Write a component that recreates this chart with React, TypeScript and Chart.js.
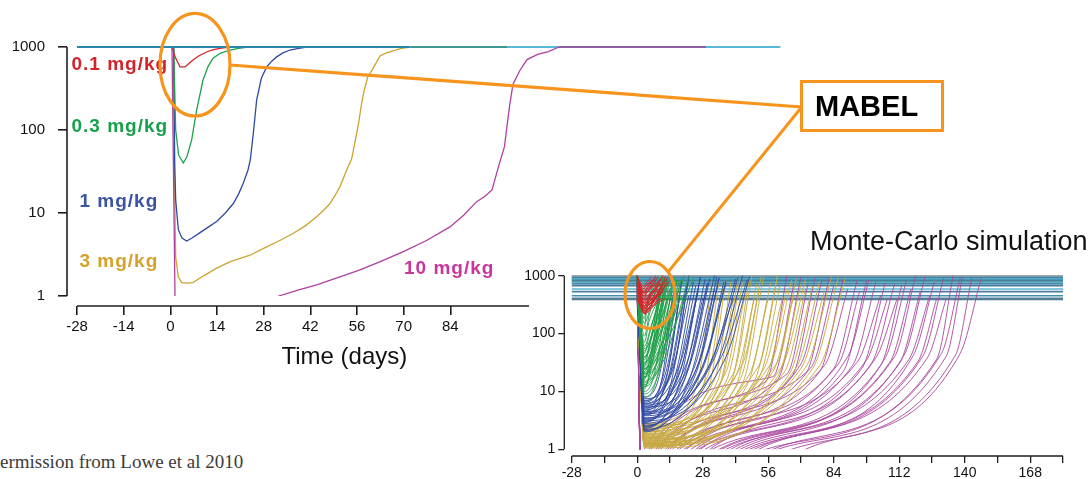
import { useEffect, useRef } from 'react';
import { Chart, registerables } from 'chart.js';

Chart.register(...registerables);

// ---------------- Main chart (Lowe et al 2010) ----------------
const mainXTicks = [-28, -14, 0, 14, 28, 42, 56, 70, 84];
const mainYTicks = [1, 10, 100, 1000];
const doseLabels = ['0.1 mg/kg', '0.3 mg/kg', '1 mg/kg', '3 mg/kg', '10 mg/kg'];

const dose01Days = [-28, 0.4, 1.5, 2.9, 4.4, 5.5, 6.8, 8.5, 11, 13, 14.9, 16.5, 17.9];
const dose01Vals = [1000, 1000, 750, 575, 575, 630, 697, 780, 877, 930, 964, 985, 1000];

const dose03Days = [-28, 1.0, 1.6, 2.5, 3.9, 5, 6.4, 7.9, 9.8, 11.3, 12.8, 15, 17.9, 20.5, 23.3];
const dose03Vals = [1000, 1000, 100, 50, 40, 48, 76, 174, 400, 580, 735, 840, 920, 965, 1000];

const dose1Days = [-28, 1.0, 1.3, 1.6, 2.4, 3.5, 4.9, 6.5, 8.9, 11.5, 13.9, 16.5, 18.9, 20.5, 21.9, 23.3, 24, 25, 25.9, 27.3, 28.9, 30.5, 31.9, 33.8, 35.9, 38.5, 40.9];
const dose1Vals = [1000, 1000, 40, 14.5, 6.3, 5.0, 4.6, 5.0, 5.8, 6.8, 7.9, 10, 13, 17, 23, 33, 44, 100, 230, 420, 575, 680, 760, 850, 920, 965, 1000];

const dose3Days = [-28, 1.0, 1.3, 1.6, 2.4, 3.4, 5, 6.8, 10, 13.9, 18, 23.9, 28.9, 33, 36.9, 40.5, 43.9, 46, 47.9, 49.5, 50.9, 52.9, 54.4, 55.5, 56.5, 57.3, 58.1, 59.2, 60.8, 62.9, 64.8, 66.8, 69, 71.9];
const dose3Vals = [1000, 1000, 20, 2.95, 1.7, 1.45, 1.43, 1.45, 1.75, 2.17, 2.6, 3.1, 3.9, 4.7, 5.7, 7, 9, 10.8, 13, 16.5, 20.8, 33, 45, 75, 122, 200, 293, 432, 552, 780, 850, 900, 955, 1000];

const dose10Days = [-28, 0.5, 1.4, 2.5, 10, 20, 27, 32.5, 38, 43.9, 50, 56.9, 63, 69.9, 77, 83.9, 88, 91.9, 94.5, 96.5, 98.6, 100.2, 101.8, 102.8, 104.9, 107, 110.2, 113.4, 116.6, 160.7];
const dose10Vals = [1000, 1000, 1, 0.4, 0.3, 0.4, 0.6, 1, 1.17, 1.36, 1.65, 2.06, 2.6, 3.42, 4.7, 6.8, 9.4, 13.7, 16, 19, 38, 62, 199, 356, 525, 705, 815, 880, 1000, 1000];

// reference line at 1000 (segments)
const topLineDays = [-28, 72, 101, 183];
const topLineVal = 1000;

// ---------------- Monte-Carlo inset ----------------
const mcXTicks = [-28, -14, 0, 14, 28, 42, 56, 70, 84, 98, 112, 126, 140, 154, 168, 182];
const mcYTicks = [1, 10, 100, 1000];
const mcBaselines = [1000, 960, 930, 900, 870, 840, 810, 780, 750, 720, 670, 590, 530, 450, 405, 390];

// [nadir, kneeDay, kneeValue, recoveryDay]
const mcRed = [
  [300, 5, 380, 11], [420, 4, 500, 9], [250, 6, 320, 13], [550, 4, 620, 8],
  [350, 5, 450, 10], [600, 3.5, 660, 7], [280, 7, 380, 14], [450, 4, 520, 9],
  [380, 5, 460, 11], [520, 4, 580, 8], [300, 6, 380, 12], [400, 4, 450, 9],
  [260, 5, 320, 11], [300, 4, 350, 8], [240, 6, 290, 12], [280, 5, 320, 10],
  [500, 4, 600, 8], [230, 6, 300, 12], [650, 3.5, 720, 6], [330, 5, 420, 10],
  [270, 6, 350, 12], [480, 4, 560, 8], [220, 7, 300, 13], [600, 3.5, 650, 6],
  [330, 5, 400, 10], [250, 6, 320, 11], [450, 4, 500, 7], [280, 5, 340, 9],
  [350, 4, 400, 7], [230, 5, 280, 9], [300, 4, 330, 7], [220, 5, 260, 9],
];
const mcGreen = [
  [10, 7, 18, 14], [12, 6, 25, 12], [14, 8, 30, 16], [16, 5, 30, 11],
  [18, 7, 40, 13], [20, 9, 45, 18], [22, 6, 45, 12], [25, 8, 60, 15],
  [28, 5, 55, 10], [30, 7, 70, 13], [35, 6, 80, 11], [40, 8, 100, 14],
  [45, 5, 90, 10], [50, 7, 120, 12], [60, 6, 140, 10], [70, 5, 160, 9],
  [12, 10, 30, 20], [15, 12, 40, 22], [20, 11, 50, 19], [25, 13, 80, 24],
  [18, 9, 35, 17], [9, 9, 20, 17], [120, 4, 250, 8], [180, 4, 300, 7],
  [8, 8, 15, 15], [11, 5, 20, 10], [13, 9, 28, 18], [17, 6, 35, 12],
  [21, 8, 50, 15], [24, 10, 60, 19], [27, 7, 60, 13], [32, 9, 85, 16],
  [38, 6, 90, 11], [55, 8, 150, 13], [90, 5, 200, 9], [150, 6, 320, 10],
];
const mcBlue = [
  [2.0, 22, 15, 33], [2.3, 18, 14, 27], [2.6, 25, 20, 35], [3.0, 14, 12, 22],
  [3.2, 20, 20, 29], [3.5, 28, 25, 38], [4.0, 12, 14, 19], [4.2, 16, 18, 24],
  [4.5, 22, 25, 30], [5.0, 10, 13, 16], [5.5, 14, 20, 21], [6.0, 18, 28, 26],
  [6.5, 11, 18, 17], [7.0, 15, 25, 22], [8.0, 9, 16, 15], [2.5, 30, 25, 41],
  [2.2, 34, 30, 45], [3.8, 26, 30, 34], [4.8, 19, 28, 27], [5.8, 23, 35, 31],
  [3.3, 32, 35, 42], [2.8, 36, 40, 47], [6.2, 13, 22, 19], [4.4, 29, 35, 37],
  [2.1, 27, 22, 38], [2.4, 20, 15, 30], [2.9, 16, 14, 25], [3.4, 24, 24, 33],
  [3.9, 18, 20, 26], [4.6, 13, 16, 20], [5.2, 21, 30, 28], [6.8, 12, 20, 18],
  [7.5, 16, 30, 22], [3.1, 38, 40, 48], [4.1, 33, 38, 43], [5.4, 27, 36, 35],
];
const mcGold = [
  [1.2, 50, 15, 60], [1.3, 45, 14, 54], [1.4, 40, 14, 48], [1.5, 35, 12, 43],
  [1.6, 30, 10, 38], [1.8, 28, 12, 35], [2.0, 25, 11, 32], [2.2, 33, 16, 40],
  [2.5, 38, 22, 45], [1.1, 60, 18, 70], [1.15, 65, 20, 75], [1.25, 55, 18, 64],
  [1.35, 70, 25, 80], [1.45, 58, 22, 67], [1.7, 48, 20, 56], [1.9, 42, 18, 50],
  [2.3, 52, 28, 60], [2.7, 45, 30, 53], [1.05, 75, 25, 86], [1.55, 62, 28, 72],
  [1.65, 36, 15, 44], [2.1, 57, 30, 66], [1.2, 68, 26, 78], [2.8, 30, 18, 37],
  [1.1, 47, 13, 57], [1.25, 42, 12, 51], [1.4, 52, 17, 61], [1.5, 63, 22, 72],
  [1.6, 44, 16, 52], [1.75, 38, 15, 46], [1.85, 54, 24, 62], [2.0, 34, 14, 41],
  [2.4, 41, 20, 49], [1.3, 72, 26, 83], [1.15, 78, 28, 89], [2.6, 60, 32, 68],
];
// [dayCrossing1, kneeDay, kneeValue, recoveryDay]
const mcMagenta = [
  [5, 55, 15, 64], [8, 60, 16, 70], [10, 66, 18, 76], [12, 72, 20, 82],
  [15, 78, 22, 88], [18, 84, 25, 94], [20, 88, 22, 98], [23, 92, 28, 102],
  [26, 96, 25, 106], [29, 100, 30, 110], [32, 104, 28, 113], [35, 108, 32, 117],
  [38, 112, 30, 121], [42, 116, 35, 125], [46, 120, 33, 128], [50, 124, 38, 132],
  [55, 128, 36, 135], [60, 132, 40, 139], [66, 136, 42, 143], [72, 138, 45, 147],
  [14, 70, 30, 79], [25, 90, 40, 99], [40, 106, 38, 115], [52, 118, 42, 127],
  [3, 58, 18, 67], [6, 64, 20, 73], [9, 74, 25, 84], [13, 80, 28, 90],
  [17, 86, 30, 95], [21, 94, 32, 104], [27, 98, 35, 107], [31, 102, 38, 111],
  [36, 110, 40, 119], [44, 114, 42, 123], [48, 122, 40, 131], [58, 130, 45, 138],
];

const SANS = "'Liberation Sans', Arial, Helvetica, sans-serif";

const rAxes = {
  id: 'rAxes',
  afterDraw(chart: any, _args: any, opts: any) {
    const { ctx, chartArea, scales } = chart;
    const x = scales.x;
    const y = scales.y;
    ctx.save();
    ctx.strokeStyle = opts.color;
    ctx.lineWidth = opts.width;
    ctx.beginPath();
    ctx.moveTo(chartArea.left, y.getPixelForValue(opts.yFrom));
    ctx.lineTo(chartArea.left, y.getPixelForValue(opts.yTo));
    ctx.moveTo(x.getPixelForValue(opts.xFrom), chartArea.bottom);
    ctx.lineTo(chartArea.right, chartArea.bottom);
    ctx.stroke();
    ctx.restore();
  },
};

function pts(days: number[], vals: number[]) {
  return days.map((d, i) => ({ x: d, y: vals[i] }));
}

function makeOptions(p: any) {
  return {
    responsive: false,
    animation: false,
    events: [],
    layout: { padding: p.padding },
    plugins: {
      legend: { display: false },
      tooltip: { enabled: false },
      rAxes: { color: '#1e1e1e', width: p.axisWidth, yFrom: 1, yTo: 1000, xFrom: -28 },
    },
    elements: { point: { radius: 0 } },
    scales: {
      x: {
        type: 'linear',
        bounds: 'data',
        afterDataLimits: (s: any) => { s.min = p.xMin; s.max = p.xMax; },
        afterBuildTicks: (s: any) => { s.ticks = p.xTicks.map((v: number) => ({ value: v })); },
        afterFit: (s: any) => { s.height = p.xHeight; },
        ticks: {
          autoSkip: false, maxRotation: 0, minRotation: 0,
          padding: p.xPad,
          color: '#111',
          font: { family: SANS, size: p.font },
          callback: p.xLabel,
        },
        grid: { drawOnChartArea: false, drawTicks: true, tickLength: p.xTick, color: '#1e1e1e', lineWidth: p.axisWidth },
        border: { display: false },
      },
      y: {
        type: 'logarithmic',
        min: p.yMin,
        max: 1000,
        afterBuildTicks: (s: any) => { s.ticks = p.yTicks.map((v: number) => ({ value: v })); },
        afterFit: (s: any) => { s.width = p.yWidth; },
        ticks: {
          autoSkip: false,
          padding: p.yPad,
          color: '#111',
          font: { family: SANS, size: p.font },
          callback: (v: any) => String(v),
        },
        grid: { drawOnChartArea: false, drawTicks: true, tickLength: p.yTick, color: '#1e1e1e', lineWidth: p.axisWidth },
        border: { display: false },
      },
    },
  };
}

function MainChart() {
  const ref = useRef<HTMLCanvasElement>(null);
  useEffect(() => {
    const clip = { left: false, top: false, right: false, bottom: -10 };
    const line = (label: string, data: any, color: string, width = 1.3, extra: any = {}) => ({
      label, data, borderColor: color, borderWidth: width, pointRadius: 0, fill: false,
      tension: 0, clip, ...extra,
    });
    const seg = (i: number) => [{ x: topLineDays[i], y: topLineVal }, { x: topLineDays[i + 1], y: topLineVal }];
    // first in list = drawn on top
    const datasets = [
      line('ref0', seg(0), '#2787ae', 2.2),
      line(doseLabels[4], pts(dose10Days, dose10Vals), '#b03fa0', 1.3, {
        segment: {
          borderColor: (ctx: any) => (ctx.p0.parsed.x >= 116 ? '#8f5fa6' : undefined),
          borderWidth: (ctx: any) => (ctx.p0.parsed.x >= 116 ? 2.2 : undefined),
        },
      }),
      line(doseLabels[0], pts(dose01Days, dose01Vals), '#d2232a'),
      line(doseLabels[1], pts(dose03Days, dose03Vals), '#1fa04c'),
      line(doseLabels[2], pts(dose1Days, dose1Vals), '#2e4aa0'),
      line(doseLabels[3], pts(dose3Days, dose3Vals), '#c9a530'),
      line('ref1', seg(1), '#3f9592', 2.2),
      line('ref2', seg(2), '#5ab9d6', 2.2),
    ];
    const chart = new Chart(ref.current as HTMLCanvasElement, {
      type: 'line',
      data: { datasets },
      options: makeOptions({
        padding: { left: 0, top: 47, right: 271, bottom: 34 },
        xMin: -31, xMax: 107.6, xTicks: mainXTicks, xHeight: 40, xPad: 3, xTick: 9,
        yMin: 0.7576, yTicks: mainYTicks, yWidth: 67, yPad: 13, yTick: 9,
        font: 15, axisWidth: 1.6,
        xLabel: (v: any) => String(v),
      }) as any,
      plugins: [rAxes as any],
    });
    return () => chart.destroy();
  }, []);
  return (
    <canvas ref={ref} width={800} height={380}
      style={{ position: 'absolute', left: 0, top: 0, width: 800, height: 380 }} />
  );
}

function InsetChart() {
  const ref = useRef<HTMLCanvasElement>(null);
  useEffect(() => {
    const clip = { left: false, top: false, right: false, bottom: -6.7 };
    const base = (i: number) => mcBaselines[i % mcBaselines.length];
    const curve = (B: number, c: number[]) => [
      { x: 0, y: B }, { x: 3, y: c[0] }, { x: c[1], y: c[2] }, { x: c[3], y: B },
    ];
    const curveM = (B: number, c: number[]) => [
      { x: 0, y: B }, { x: 2, y: 0.05 }, { x: c[0], y: 1 }, { x: c[1], y: c[2] }, { x: c[3], y: B },
    ];
    const ds = (label: string, data: any, color: string, width = 0.9) => ({
      label, data, borderColor: color, borderWidth: width, pointRadius: 0, fill: false,
      cubicInterpolationMode: 'monotone', clip,
    });
    const baseColors = ['#a5a5a5', '#3f8fb0', '#4a7d9b', '#5ab6d3', '#3f8fb0', '#4a7d9b', '#3e9493', '#5ab6d3',
      '#4a7d9b', '#3f8fb0', '#4a7d9b', '#5ab6d3', '#4a7d9b', '#3f8fb0', '#5b7f96', '#4a7d9b'];
    // first in list = drawn on top
    const datasets: any[] = [];
    mcRed.forEach((c, i) => datasets.push(ds(doseLabels[0], curve(base(i), c), '#d0262a')));
    mcGreen.forEach((c, i) => datasets.push(ds(doseLabels[1], curve(base(i), c), '#1f9f48')));
    mcBlue.forEach((c, i) => datasets.push(ds(doseLabels[2], curve(base(i), c), '#2f47a0')));
    mcGold.forEach((c, i) => datasets.push(ds(doseLabels[3], curve(base(i), c), '#c6a83c')));
    mcMagenta.forEach((c, i) => datasets.push(ds(doseLabels[4], curveM(base(i), c), '#a9479f')));
    mcBaselines.forEach((B, i) => datasets.push(ds('base' + i, [{ x: -28, y: B }, { x: 182, y: B }], baseColors[i], 1.6)));
    const chart = new Chart(ref.current as HTMLCanvasElement, {
      type: 'line',
      data: { datasets },
      options: makeOptions({
        padding: { left: 0, top: 20.7, right: 27, bottom: 0 },
        xMin: -31.2, xMax: 182, xTicks: mcXTicks, xHeight: 23, xPad: 2, xTick: 7,
        yMin: 0.765, yTicks: mcYTicks, yWidth: 64.3, yPad: 3, yTick: 6,
        font: 14, axisWidth: 1.3,
        xLabel: (v: any) => (Number(v) % 28 === 0 ? String(v) : ''),
      }) as any,
      plugins: [rAxes as any],
    });
    return () => chart.destroy();
  }, []);
  return (
    <canvas ref={ref} width={590} height={224}
      style={{ position: 'absolute', left: 500, top: 255, width: 590, height: 224 }} />
  );
}

const labelStyle = (left: number, top: number, color: string): any => ({
  position: 'absolute', left, top, color, fontFamily: SANS, fontWeight: 'bold', fontSize: 19,
  letterSpacing: 1, lineHeight: 1, whiteSpace: 'nowrap',
});

export default function App() {
  const orange = '#f7941d';
  return (
    <div style={{ position: 'fixed', left: 0, top: 0, width: 1090, height: 479, background: '#fff', overflow: 'hidden' }}>
      <MainChart />
      <InsetChart />
      <div style={labelStyle(71.5, 54.3, '#d2232a')}>{doseLabels[0]}</div>
      <div style={labelStyle(71.5, 115.8, '#17a04a')}>{doseLabels[1]}</div>
      <div style={labelStyle(79.5, 190.8, '#3a53a4')}>{doseLabels[2]}</div>
      <div style={labelStyle(79.5, 250.8, '#d4a22b')}>{doseLabels[3]}</div>
      <div style={labelStyle(404, 258.2, '#c9359b')}>{doseLabels[4]}</div>
      <div style={{ position: 'absolute', left: 281.5, top: 343.6, fontFamily: SANS, fontSize: 24, lineHeight: 1, color: '#111', whiteSpace: 'nowrap' }}>
        Time (days)
      </div>
      <div style={{ position: 'absolute', left: 810, top: 228.2, fontFamily: SANS, fontSize: 27, lineHeight: 1, color: '#111', whiteSpace: 'nowrap' }}>
        Monte-Carlo simulation
      </div>
      <div style={{ position: 'absolute', left: 0, top: 452.4, fontFamily: "'Liberation Serif', 'Times New Roman', serif", fontSize: 19, lineHeight: 1, color: '#3b3b3b', whiteSpace: 'nowrap' }}>
        ermission from Lowe et al 2010
      </div>
      <svg width={1090} height={479} style={{ position: 'absolute', left: 0, top: 0, pointerEvents: 'none' }}>
        <ellipse cx={195} cy={64.7} rx={35} ry={51.3} fill="none" stroke={orange} strokeWidth={3.2} />
        <line x1={230} y1={65} x2={801.7} y2={107} stroke={orange} strokeWidth={3.2} />
        <line x1={801.7} y1={107} x2={668.3} y2={271.7} stroke={orange} strokeWidth={3} />
        <ellipse cx={650} cy={295} rx={25} ry={33.5} fill="none" stroke={orange} strokeWidth={3.2} />
      </svg>
      <div style={{ position: 'absolute', left: 800.2, top: 80.2, width: 143.6, height: 52.3, boxSizing: 'border-box', border: `3px solid ${orange}`, background: '#fff' }} />
      <div style={{ position: 'absolute', left: 815, top: 92.2, fontFamily: SANS, fontWeight: 'bold', fontSize: 29, lineHeight: 1, color: '#000', whiteSpace: 'nowrap' }}>
        MABEL
      </div>
    </div>
  );
}
